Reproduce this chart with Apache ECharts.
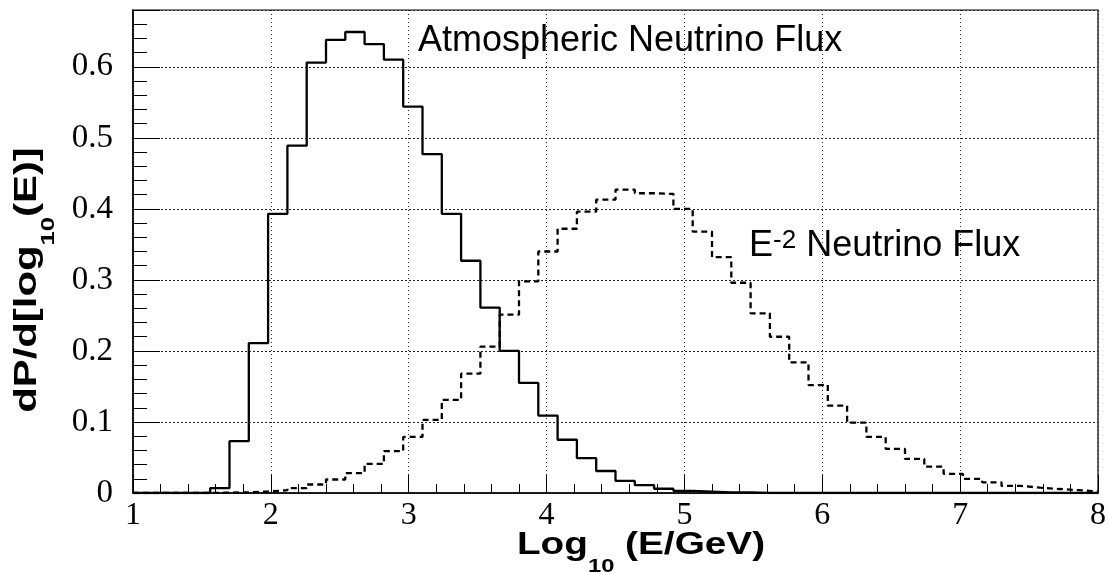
<!DOCTYPE html>
<html>
<head>
<meta charset="utf-8">
<script src="https://cdn.jsdelivr.net/npm/echarts@6/dist/echarts.min.js"></script>
<style>
html,body{margin:0;padding:0;background:#fff;}
#chart{width:1109px;height:573px;}
</style>
</head>
<body>
<div id="chart"></div>
<script>
// Bin edges of log10(E/GeV) histogram (50 bins from 1 to 8)
var binEdges = [1.00,1.14,1.28,1.42,1.56,1.70,1.84,1.98,2.12,2.26,
  2.40,2.54,2.68,2.82,2.96,3.10,3.24,3.38,3.52,3.66,
  3.80,3.94,4.08,4.22,4.36,4.50,4.64,4.78,4.92,5.06,
  5.20,5.34,5.48,5.62,5.76,5.90,6.04,6.18,6.32,6.46,
  6.60,6.74,6.88,7.02,7.16,7.30,7.44,7.58,7.72,7.86,8.00];

// Atmospheric neutrino flux (solid)
var atmospheric = [0,0,0,0,0.007,0.073,0.211,0.393,0.489,0.606,
  0.638,0.649,0.632,0.610,0.544,0.477,0.393,0.327,0.261,0.200,
  0.155,0.109,0.075,0.049,0.031,0.017,0.011,0.006,0.003,0.002,
  0.001,0.001,0,0,0,0,0,0,0,0,
  0,0,0,0,0,0,0,0,0,0];

// E^-2 neutrino flux (dashed)
var eMinus2 = [0,0,0,0,0.0005,0.001,0.002,0.004,0.007,0.012,
  0.019,0.028,0.041,0.059,0.079,0.103,0.131,0.168,0.206,0.251,
  0.298,0.340,0.372,0.396,0.413,0.427,0.422,0.421,0.400,0.368,
  0.332,0.296,0.253,0.220,0.184,0.152,0.123,0.099,0.079,0.062,
  0.048,0.037,0.027,0.020,0.015,0.010,0.0075,0.0056,0.004,0.002];

var xTicks = [1,2,3,4,5,6,7,8];
var yTicks = [0,0.1,0.2,0.3,0.4,0.5,0.6];

function histPoints(vals){
  var pts = [];
  for (var i = 0; i < vals.length; i++) pts.push([binEdges[i], vals[i]]);
  pts.push([binEdges[vals.length], vals[vals.length-1]]);
  return pts;
}

var chart = echarts.init(document.getElementById('chart'), null, {renderer:'canvas'});
var gridDot = {show:true, lineStyle:{color:'#222', width:1, type:[1,3]}};
var gridDash = {show:true, lineStyle:{color:'#222', width:1, type:[2,2]}};
var serif = '"Liberation Serif", "DejaVu Serif", serif';
var sans = '"Liberation Sans", Arial, sans-serif';

chart.setOption({
  animation:false,
  backgroundColor:'#fff',
  grid:{left:133, right:4, top:10, bottom:80, show:true, borderColor:'#000', borderWidth:1.2, backgroundColor:'transparent'},
  xAxis:[{
    type:'value', min:xTicks[0], max:xTicks[xTicks.length-1], interval:1,
    axisLine:{show:true, lineStyle:{color:'#000', width:1.5}},
    axisTick:{show:true, inside:true, length:18, lineStyle:{color:'#000', width:1}},
    axisLabel:{show:true, margin:7, color:'#000', fontFamily:serif, fontSize:32,
      formatter:function(v){ return xTicks.indexOf(v) >= 0 ? String(v) : ''; }},
    splitLine:gridDot
  },{
    type:'value', min:xTicks[0], max:xTicks[xTicks.length-1], interval:0.2, position:'bottom',
    axisLine:{show:false}, axisLabel:{show:false}, splitLine:{show:false},
    axisTick:{show:true, inside:true, length:9, lineStyle:{color:'#000', width:1}}
  }],
  yAxis:[{
    type:'value', min:0, max:0.68, interval:0.1,
    axisLine:{show:true, lineStyle:{color:'#000', width:1.5}},
    axisTick:{show:true, inside:true, length:27, lineStyle:{color:'#000', width:1}},
    axisLabel:{show:true, margin:20, color:'#000', fontFamily:serif, fontSize:33,
      formatter:function(v){
        for (var i = 0; i < yTicks.length; i++) if (Math.abs(yTicks[i]-v) < 1e-6) return String(yTicks[i]);
        return '';
      }},
    splitLine:gridDash
  },{
    type:'value', min:0, max:0.68, interval:0.02, position:'left', offset:0,
    axisLine:{show:false}, axisLabel:{show:false}, splitLine:{show:false},
    axisTick:{show:true, inside:true, length:14, lineStyle:{color:'#000', width:1}}
  }],
  series:[{
    name:'Atmospheric Neutrino Flux', type:'line', step:'end', symbol:'none',
    xAxisIndex:0, yAxisIndex:0, data:histPoints(atmospheric),
    lineStyle:{color:'#000', width:2.3}, z:5
  },{
    name:'E-2 Neutrino Flux', type:'line', step:'end', symbol:'none',
    xAxisIndex:0, yAxisIndex:0, data:histPoints(eMinus2),
    lineStyle:{color:'#000', width:2.3, type:[6,4]}, z:5
  }],
  graphic:[{
    type:'text', x:418, y:41,
    style:{text:'Atmospheric Neutrino Flux', fontSize:36, fontFamily:sans, fill:'#000', verticalAlign:'middle', align:'left'}
  },{
    type:'text', x:749, y:246,
    style:{text:'{m|E}{p|-2}{m| Neutrino Flux}', fill:'#000', verticalAlign:'middle', align:'left',
      rich:{
        m:{fontSize:36, fontFamily:sans, lineHeight:36, verticalAlign:'bottom', fill:'#000'},
        p:{fontSize:26, fontFamily:sans, lineHeight:24, verticalAlign:'top', fill:'#000'}
      }}
  },{
    type:'text', x:641, y:553, scaleX:1.25,
    style:{text:'{m|Log}{s|10}{m| (E/GeV)}', fill:'#000', verticalAlign:'middle', align:'center',
      rich:{
        m:{fontSize:31, fontWeight:'bold', fontFamily:sans, lineHeight:31, verticalAlign:'top', fill:'#000'},
        s:{fontSize:19, fontWeight:'bold', fontFamily:sans, lineHeight:46, verticalAlign:'bottom', fill:'#000'}
      }}
  },{
    type:'text', x:35, y:280, rotation:Math.PI/2, scaleX:1.35,
    style:{text:'{m|dP/d[log}{s|10}{m|(E)]}', fill:'#000', verticalAlign:'middle', align:'center',
      rich:{
        m:{fontSize:31, fontWeight:'bold', fontFamily:sans, lineHeight:31, verticalAlign:'top', fill:'#000'},
        s:{fontSize:19, fontWeight:'bold', fontFamily:sans, lineHeight:46, verticalAlign:'bottom', fill:'#000'}
      }}
  }]
});
</script>
</body>
</html>
